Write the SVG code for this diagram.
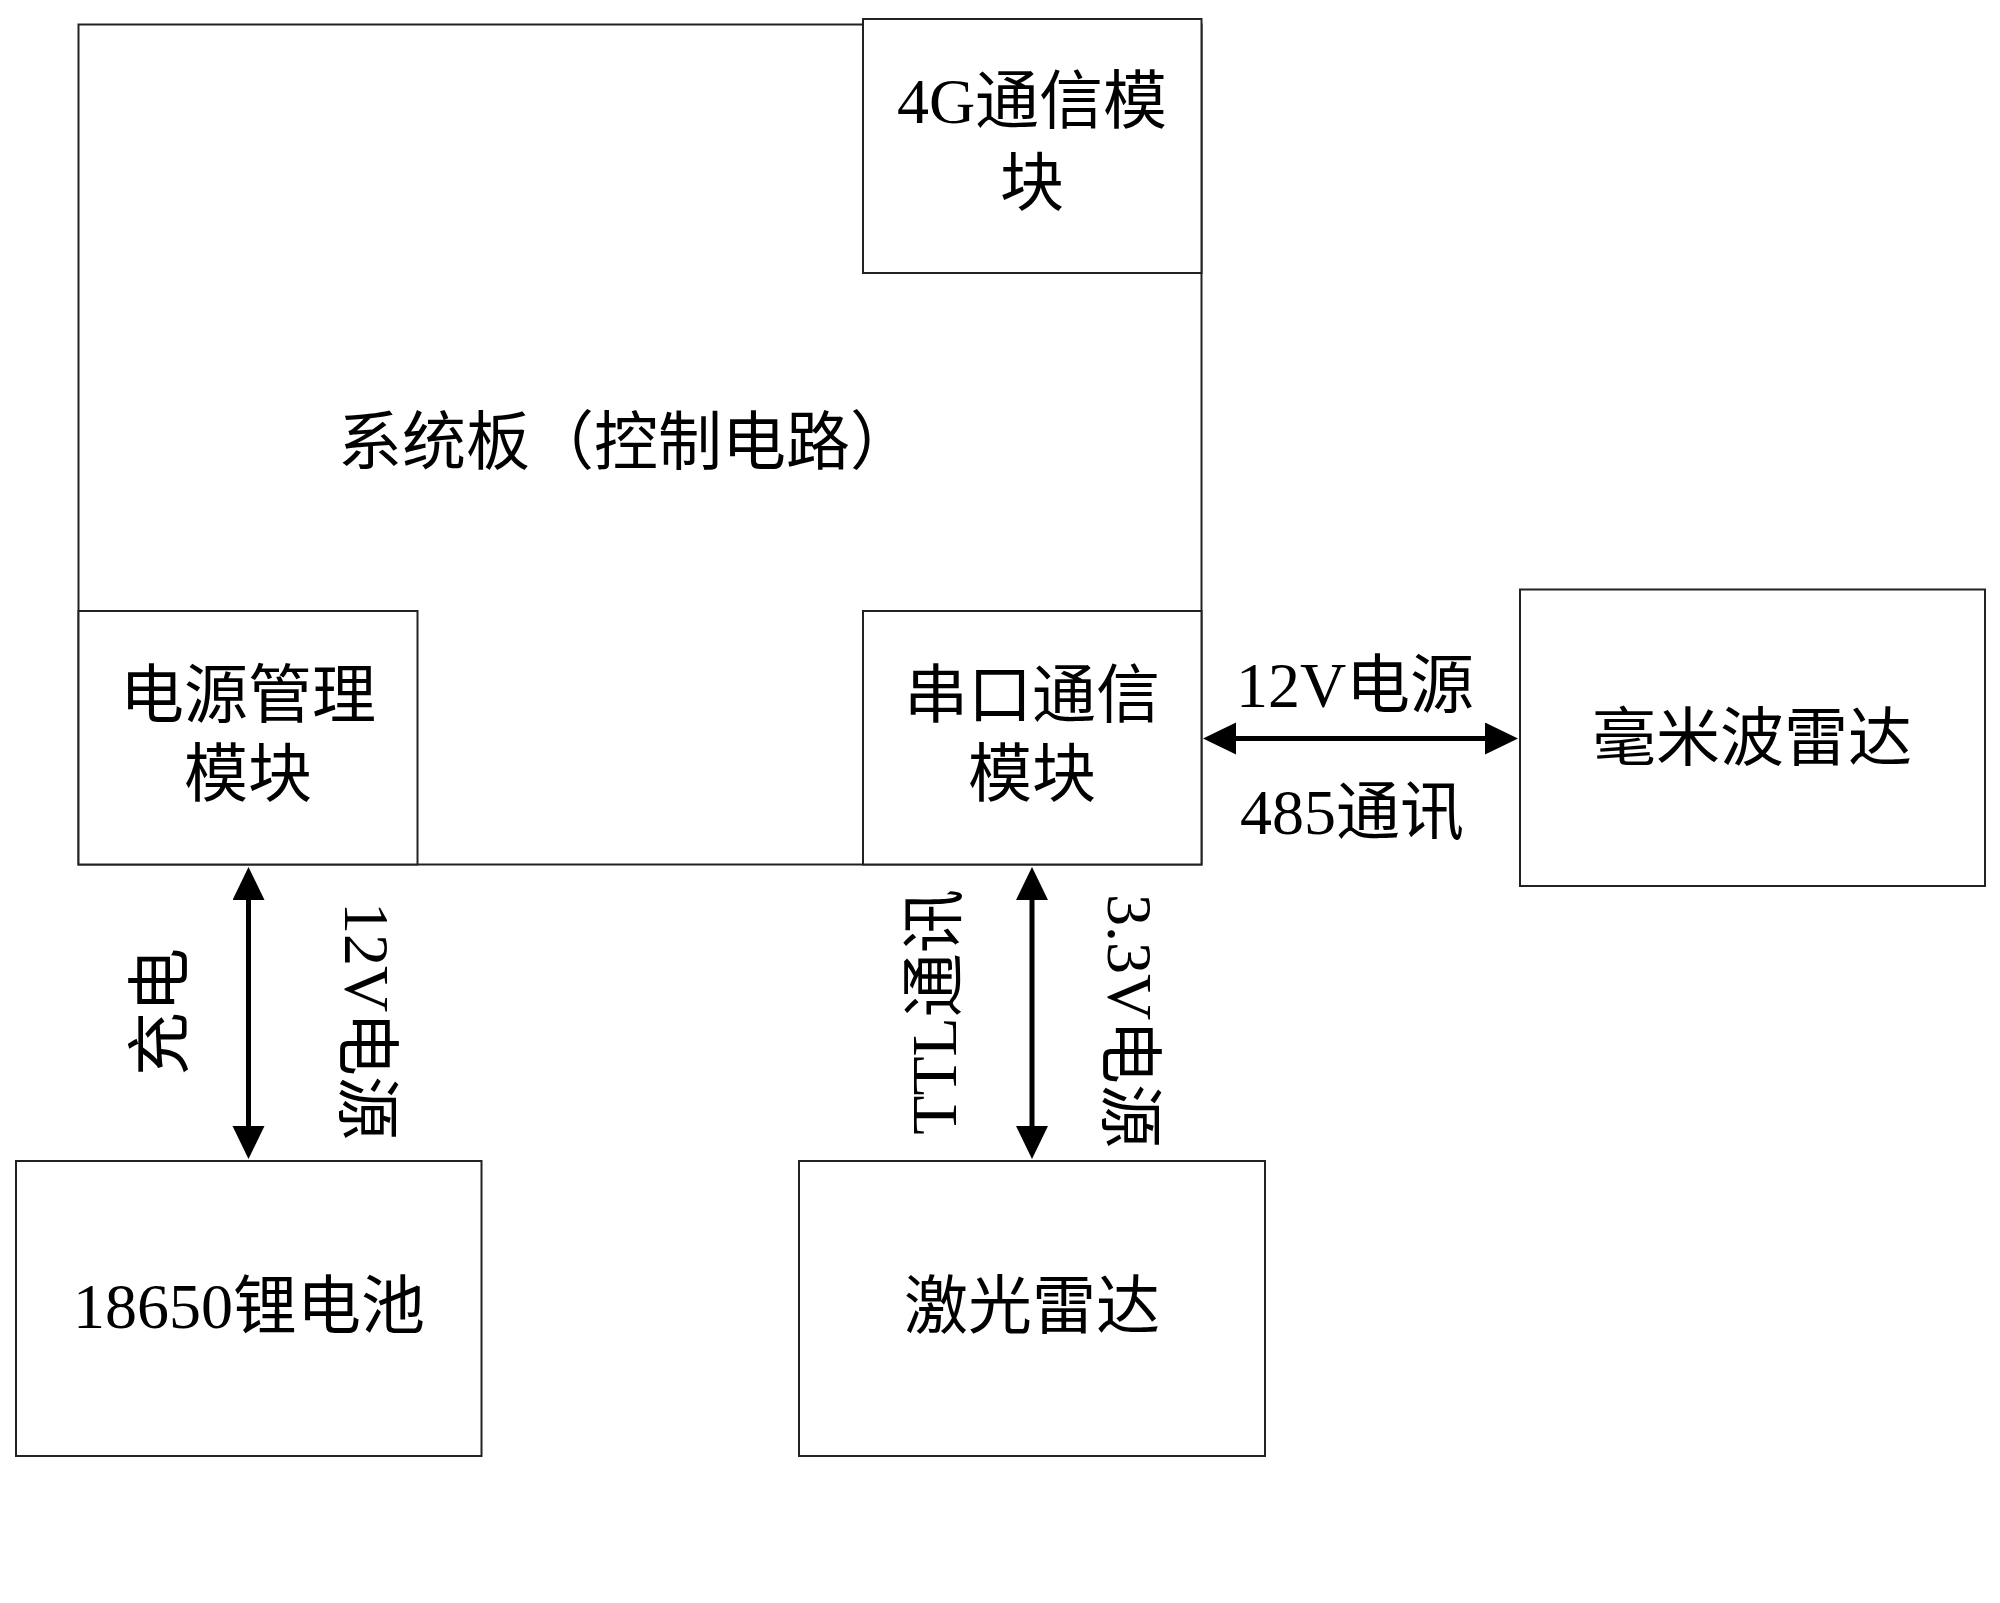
<svg xmlns="http://www.w3.org/2000/svg" width="2000" height="1603" viewBox="0 0 2000 1603">
<style>
.box{fill:#fff;stroke:#222;stroke-width:2}
.t{font-family:"Liberation Serif","Noto Sans CJK SC",serif;font-size:64px;fill:#000;text-anchor:middle}
.conn{stroke:#000;stroke-width:5;fill:none;marker-start:url(#ah);marker-end:url(#ah)}
</style>
<defs>
<marker id="ah" markerUnits="userSpaceOnUse" markerWidth="36" markerHeight="34" refX="1" refY="16" orient="auto-start-reverse" viewBox="0 0 36 34">
<path d="M0,0 L33,16 L0,32 z" fill="#000"/>
</marker>
</defs>
<rect width="2000" height="1603" fill="#fff"/>
<g id="system-board">
<rect class="box" x="78.5" y="24.5" width="1123" height="840"/>
<text class="t" x="626" y="464">系统板（控制电路）</text>
</g>
<g id="module-4g">
<rect class="box" x="863" y="19" width="338.5" height="254"/>
<text class="t" x="1032" y="123">4G通信模</text>
<text class="t" x="1032" y="205">块</text>
</g>
<g id="power-module">
<rect class="box" x="78.5" y="611" width="339" height="253.5"/>
<text class="t" x="248" y="717">电源管理</text>
<text class="t" x="248" y="796">模块</text>
</g>
<g id="serial-module">
<rect class="box" x="863" y="611" width="338.5" height="253.5"/>
<text class="t" x="1032" y="717">串口通信</text>
<text class="t" x="1032" y="796">模块</text>
</g>
<g id="mmwave-radar">
<rect class="box" x="1520" y="589.5" width="465" height="296.5"/>
<text class="t" x="1752" y="760">毫米波雷达</text>
</g>
<g id="battery">
<rect class="box" x="16" y="1161" width="465.5" height="295"/>
<text class="t" x="249" y="1328">18650锂电池</text>
</g>
<g id="laser-radar">
<rect class="box" x="799" y="1161" width="466" height="295"/>
<text class="t" x="1032" y="1328">激光雷达</text>
</g>
<g id="connectors">
<line class="conn" x1="248.5" y1="899" x2="248.5" y2="1127"/>
<line class="conn" x1="1032" y1="899" x2="1032" y2="1127"/>
<line class="conn" x1="1235" y1="738.5" x2="1486" y2="738.5"/>
<text class="t" transform="translate(159,1012) rotate(-90)" x="0" y="23">充电</text>
<text class="t" transform="translate(368,1021) rotate(90)" x="0" y="23">12V电源</text>
<text class="t" transform="translate(933,1012) rotate(-90)" x="0" y="23">TTL通讯</text>
<text class="t" transform="translate(1131,1021) rotate(90)" x="0" y="23">3.3V电源</text>
<text class="t" x="1355" y="707">12V电源</text>
<text class="t" x="1352" y="834">485通讯</text>
</g>
</svg>
